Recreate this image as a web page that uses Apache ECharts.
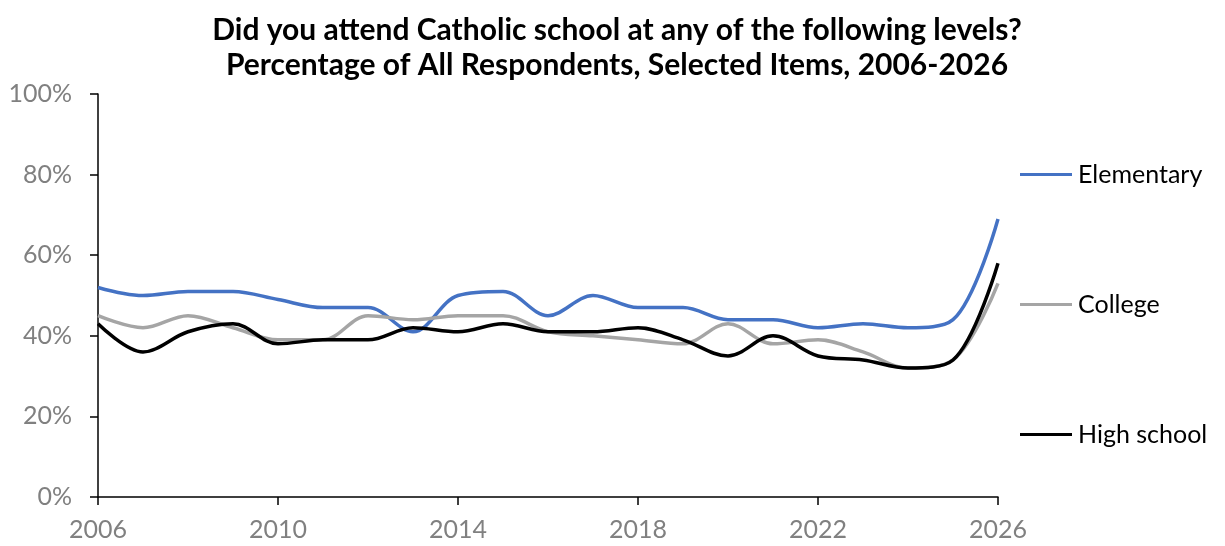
<!DOCTYPE html>
<html><head><meta charset="utf-8">
<script src="https://cdn.jsdelivr.net/npm/echarts@6/dist/echarts.min.js"></script>
<style>html,body{margin:0;padding:0;background:#fff}#c{width:1225px;height:546px}</style>
</head><body><div id="c"></div>
<script>
const years = ['2006','2007','2008','2009','2010','2011','2012','2013','2014','2015','2016','2017','2018','2019','2020','2021','2022','2023','2024','2025','2026'];
const elementary = [52,50,51,51,49,47,47,41,50,51,45,50,47,47,44,44,42,43,42,44,69];
const college    = [45,42,45,42,39,39,45,44,45,45,41,40,39,38,43,38,39,36,32,34,53];
const highSchool = [43,36,41,43,38,39,39,42,41,43,41,41,42,39,35,40,35,34,32,34,58];
const yTicks = [0,20,40,60,80,100];

const FONT = 'Lato, "Open Sans", sans-serif';
const chart = echarts.init(document.getElementById('c'), null, {renderer:'canvas'});
const mk = (name, data, color) => ({
  name, type:'line', data, smooth:0.35, symbol:'none',
  lineStyle:{color, width:3.5}, itemStyle:{color}
});
chart.setOption({
  animation:false,
  title:{
    text:'Did you attend Catholic school at any of the following levels?\nPercentage of All Respondents, Selected Items, 2006-2026',
    left:612, textAlign:'center', top:8,
    textStyle:{fontFamily:FONT, fontWeight:'bold', fontSize:30, lineHeight:35, color:'#000'}
  },
  legend:{
    orient:'vertical', left:1020, top:162, padding:0, itemWidth:52, itemHeight:3, itemGap:105,
    icon:'rect',
    textStyle:{fontFamily:FONT, fontSize:25, color:'#000', padding:[0,0,0,1]},
    data:['Elementary','College','High school']
  },
  grid:{left:98, right:227, top:94, bottom:49, containLabel:false},
  xAxis:{
    type:'category', data:years, boundaryGap:false,
    axisLine:{lineStyle:{color:'#000', width:1.5}},
    axisTick:{interval:3, length:8, lineStyle:{color:'#000', width:1.5}},
    axisLabel:{interval:3, color:'#808080', fontFamily:FONT, fontSize:25, margin:20}
  },
  yAxis:{
    type:'value', min:0, max:100, interval:20,
    axisLine:{show:true, lineStyle:{color:'#000', width:1.5}},
    axisTick:{show:true, length:8, lineStyle:{color:'#000', width:1.5}},
    splitLine:{show:false},
    axisLabel:{color:'#808080', fontFamily:FONT, fontSize:25, margin:26, formatter: v => v + '%'}
  },
  series:[
    mk('Elementary', elementary, '#4472C4'),
    mk('College', college, '#A5A5A5'),
    mk('High school', highSchool, '#000000')
  ]
});
</script></body></html>
